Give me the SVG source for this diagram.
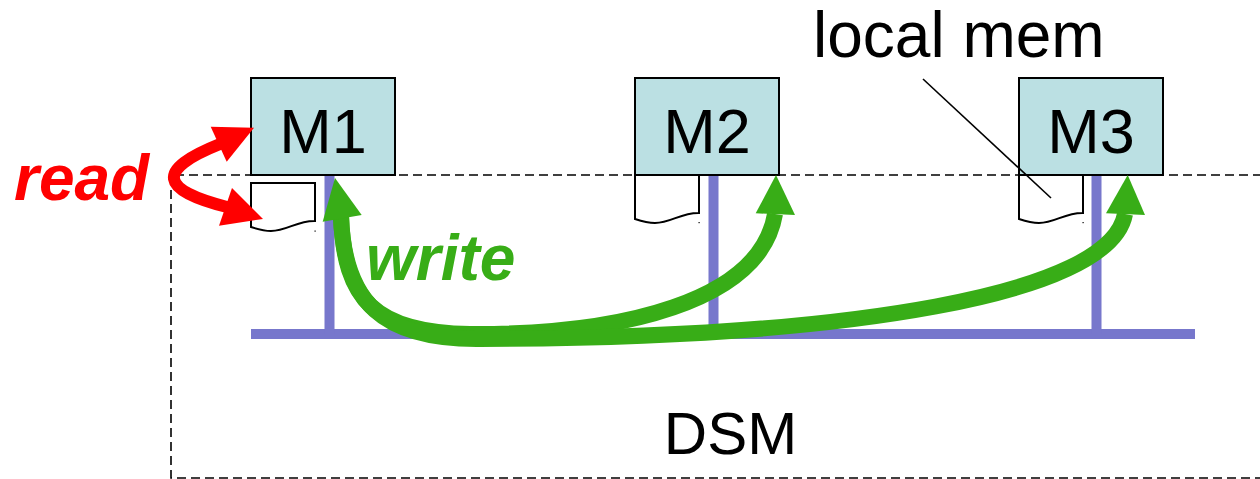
<svg xmlns="http://www.w3.org/2000/svg" width="1260" height="479" viewBox="0 0 1260 479">
  <style>
    .lbl { font-family: "Liberation Sans", Arial, sans-serif; fill: #000; }
    .box { fill: #bbe0e3; stroke: #000; stroke-width: 2; }
    .doc { fill: #fff; stroke: #000; stroke-width: 2; stroke-linejoin: miter; }
    .bus { stroke: #7777cc; stroke-width: 10; fill: none; }
    .dsm { fill: none; stroke: #000; stroke-width: 1.6; stroke-dasharray: 9 5; }
    .wr { fill: none; stroke: #38ad17; stroke-width: 16; }
    .wrh { fill: #38ad17; }
    .rd { fill: none; stroke: #ff0000; stroke-width: 12; }
    .rdh { fill: #ff0000; }
    .op { font-family: "Liberation Sans", Arial, sans-serif; font-size: 64px; font-weight: bold; font-style: italic; }
    .speck { fill: #000; }
  </style>
  <defs>
    <!-- local memory page: flag shape with wavy bottom -->
    <path id="page" d="M0 0 H64 V38 C46 37.5 36 48 20 48 C12 48 6 46 0 44 Z"/>
  </defs>

  <!-- DSM region boundary -->
  <g id="dsm-region">
    <path class="dsm" d="M1262 175 H171 V478 H1262"/>
    <text class="lbl" x="730.5" y="454" font-size="60" text-anchor="middle">DSM</text>
  </g>

  <!-- shared bus -->
  <g id="bus">
    <line class="bus" x1="251" y1="334" x2="1195" y2="334"/>
    <line class="bus" x1="329.5" y1="175" x2="329.5" y2="334"/>
    <line class="bus" x1="713.5" y1="175" x2="713.5" y2="334"/>
    <line class="bus" x1="1096.5" y1="175" x2="1096.5" y2="334"/>
  </g>

  <!-- local memory pages -->
  <g id="mem1">
    <use href="#page" class="doc" transform="translate(251 183)"/>
    <rect class="speck" x="314.5" y="230.5" width="1.2" height="1.2"/>
  </g>
  <g id="mem2">
    <use href="#page" class="doc" transform="translate(635 175)"/>
    <rect class="speck" x="698.5" y="222" width="1.2" height="1.2"/>
  </g>
  <g id="mem3">
    <use href="#page" class="doc" transform="translate(1019 175)"/>
    <rect class="speck" x="1082.5" y="222" width="1.2" height="1.2"/>
  </g>

  <!-- machines -->
  <g id="m1">
    <rect class="box" x="251" y="78" width="144" height="97"/>
    <text class="lbl" x="323" y="153" font-size="63" text-anchor="middle">M1</text>
  </g>
  <g id="m2">
    <rect class="box" x="635" y="78" width="144" height="97"/>
    <text class="lbl" x="707" y="153" font-size="63" text-anchor="middle">M2</text>
  </g>
  <g id="m3">
    <rect class="box" x="1019" y="78" width="144" height="97"/>
    <text class="lbl" x="1091" y="153" font-size="63" text-anchor="middle">M3</text>
  </g>

  <!-- callout for local memory -->
  <g id="callout">
    <line x1="923" y1="79" x2="1051" y2="198" stroke="#000" stroke-width="1.6"/>
    <text class="lbl" x="813" y="57" font-size="64">local mem</text>
  </g>

  <!-- connectors -->
  <g id="connectors">
    <!-- write propagation M1 -> M2 and M1 -> M3 -->
    <path class="wr" d="M341 216 C344 300 375 333 470 334 C620 335 760 302 775 214"/>
    <path class="wr" d="M341 216 C344 302 382 340 480 339 C850 338 1110 295 1125 214"/>
    <polygon class="wrh" points="335,178 322.7,221.7 361.7,215"/>
    <polygon class="wrh" points="776,175 755.7,213.3 795,215"/>
    <polygon class="wrh" points="1127.7,175 1106,213.3 1145,215"/>
    <!-- read: M1 <-> local page -->
    <path class="rd" d="M220 144 C155 170 160 190 227 207"/>
    <polygon class="rdh" points="254,127.7 210.7,126.7 226.7,161.7"/>
    <polygon class="rdh" points="263,219 232,188 219,225.7"/>
  </g>

  <!-- operation labels -->
  <g id="labels">
    <text class="op" x="14" y="200" fill="#ff0000">read</text>
    <text class="op" x="366" y="280" fill="#38ad17">write</text>
  </g>
</svg>
